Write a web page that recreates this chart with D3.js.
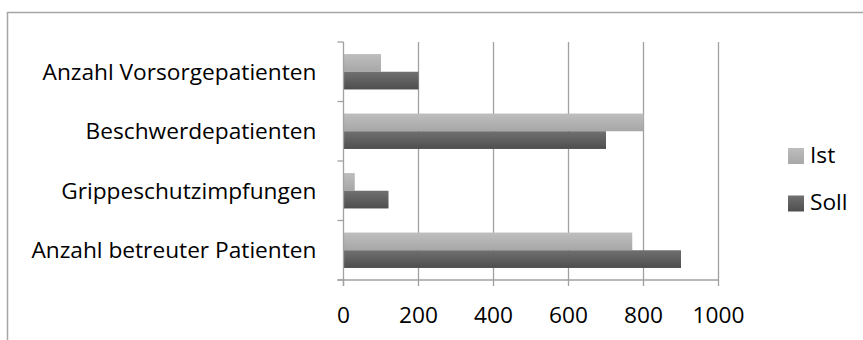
<!DOCTYPE html>
<html><head><meta charset="utf-8">
<script src="https://cdn.jsdelivr.net/npm/d3@7"></script>
<style>body{margin:0;background:#fff}svg{display:block}</style>
</head><body>
<svg id="c" width="863" height="340"></svg>
<script>
const categories = ["Anzahl Vorsorgepatienten","Beschwerdepatienten","Grippeschutzimpfungen","Anzahl betreuter Patienten"];
const seriesNames = ["Ist","Soll"];
const istValues = [100, 800, 30, 770];
const sollValues = [200, 700, 120, 900];
const xTicks = [0, 200, 400, 600, 800, 1000];

(function(){
const FONT = "'Open Sans', sans-serif";
const FS = 22.7;
const svg = d3.select("#c");
const defs = svg.append("defs");
function grad(id, c1, c2){
  const g = defs.append("linearGradient").attr("id", id).attr("x1",0).attr("y1",0).attr("x2",0).attr("y2",1);
  g.append("stop").attr("offset","0%").attr("stop-color",c1);
  g.append("stop").attr("offset","100%").attr("stop-color",c2);
}
grad("gIst", "#bebebe", "#a7a7a7");
grad("gSoll", "#707070", "#4e4e4e");
const fills = {Ist:"url(#gIst)", Soll:"url(#gSoll)"};

svg.append("rect").attr("x",7.5).attr("y",12.5).attr("width",900).attr("height",400)
  .attr("fill","none").attr("stroke","#a6a6a6").attr("stroke-width",1.5);

const pL = 343.5, pR = 718.5, pT = 42, pB = 280;
const x = d3.scaleLinear().domain([0,1000]).range([pL, pR]);
const y = d3.scaleBand().domain(categories).range([pT, pB]).paddingInner(0.405).paddingOuter(0.2025);
const ySub = d3.scaleBand().domain(seriesNames).range([0, y.bandwidth()]);

svg.append("g").selectAll("line").data(xTicks.slice(1)).join("line")
  .attr("x1", d=>x(d)).attr("x2", d=>x(d)).attr("y1", pT).attr("y2", pB)
  .attr("stroke","#a0a0a0").attr("stroke-width",1.3);

const data = categories.map((c,i)=>({c, Ist: istValues[i], Soll: sollValues[i]}));
const groups = svg.append("g").selectAll("g").data(data).join("g")
  .attr("transform", d=>`translate(0,${y(d.c)})`);
groups.selectAll("rect").data(d=>seriesNames.map(s=>({s, v:d[s]}))).join("rect")
  .attr("x", x(0)).attr("y", d=>ySub(d.s)).attr("height", ySub.bandwidth())
  .attr("width", d=>x(d.v)-x(0)).attr("fill", d=>fills[d.s]);

const yAxisG = svg.append("g");
yAxisG.append("line").attr("x1",pL).attr("x2",pL).attr("y1",pT).attr("y2",pB+6)
  .attr("stroke","#a0a0a0").attr("stroke-width",1.3);
const step = (pB-pT)/categories.length;
const bounds = d3.range(categories.length+1).map(i=>pT+i*step);
yAxisG.selectAll("line.t").data(bounds).join("line").attr("class","t")
  .attr("x1",pL-6).attr("x2",pL).attr("y1",d=>d).attr("y2",d=>d)
  .attr("stroke","#a0a0a0").attr("stroke-width",1.3);
yAxisG.selectAll("text").data(categories).join("text")
  .attr("x", 316.5).attr("y", d=>y(d)+y.bandwidth()/2).attr("dy","0.35em")
  .attr("text-anchor","end").attr("font-family",FONT).attr("font-size",FS).attr("fill","#000")
  .text(d=>d);

const xAxisG = svg.append("g");
xAxisG.append("line").attr("x1",pL-6).attr("x2",pR).attr("y1",pB).attr("y2",pB)
  .attr("stroke","#a0a0a0").attr("stroke-width",1.3);
xAxisG.selectAll("line.t").data(xTicks).join("line").attr("class","t")
  .attr("x1",d=>x(d)).attr("x2",d=>x(d)).attr("y1",pB).attr("y2",pB+6)
  .attr("stroke","#a0a0a0").attr("stroke-width",1.3);
xAxisG.selectAll("text").data(xTicks).join("text")
  .attr("x", d=>x(d)).attr("y", 322.5).attr("text-anchor","middle")
  .attr("font-family",FONT).attr("font-size",FS).attr("fill","#000").text(d=>d);

const lg = svg.append("g").selectAll("g").data(seriesNames).join("g")
  .attr("transform",(d,i)=>`translate(788,${148+i*47.5})`);
lg.append("rect").attr("width",16).attr("height",16).attr("fill",d=>fills[d]);
lg.append("text").attr("x",22).attr("y",16).attr("dy","-0.05em")
  .attr("font-family",FONT).attr("font-size",FS).attr("fill","#000").text(d=>d);
})();
</script>
</body></html>
